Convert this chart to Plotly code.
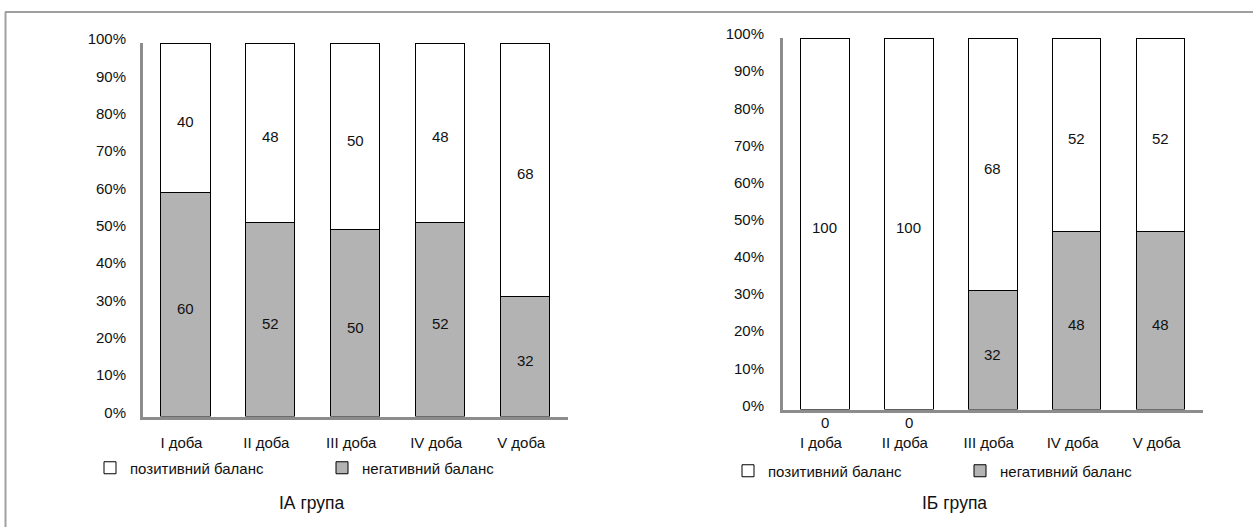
import plotly.graph_objects as go

# Daily balance shares, %, for the two patient groups
days = ["I доба", "II доба", "III доба", "IV доба", "V доба"]
ia_positive = [40, 48, 50, 48, 68]
ia_negative = [60, 52, 50, 52, 32]
ib_positive = [100, 100, 68, 52, 52]
ib_negative = [0, 0, 32, 48, 48]

pos_name = "позитивний баланс"
neg_name = "негативний баланс"
group_titles = ["ІА група", "ІБ група"]
y_ticks = list(range(0, 101, 10))
y_tick_text = [f"{v}%" for v in y_ticks]

W, H = 1253, 527
FONT = "Liberation Sans, Arial, sans-serif"
FS = 15
TXT = "#111111"
GREY_FILL = "#b3b3b3"
AXIS_GREY = "#8c8c8c"


def px_x(p):
    return p / W


def px_y(p):
    return 1 - p / H


fig = go.Figure()

panels = [
    dict(xa="x", ya="y", pos=ia_positive, neg=ia_negative, legend="legend"),
    dict(xa="x2", ya="y2", pos=ib_positive, neg=ib_negative, legend="legend2"),
]

for p in panels:
    fig.add_trace(go.Bar(
        x=days, y=p["neg"], name=neg_name, xaxis=p["xa"], yaxis=p["ya"],
        marker=dict(color=GREY_FILL, line=dict(color="black", width=1)),
        legend=p["legend"], legendrank=2, hoverinfo="skip",
    ))
    fig.add_trace(go.Bar(
        x=days, y=p["pos"], name=pos_name, xaxis=p["xa"], yaxis=p["ya"],
        marker=dict(color="white", line=dict(color="black", width=1)),
        legend=p["legend"], legendrank=1, hoverinfo="skip",
    ))

# value labels in the middle of each segment; zero segments labelled under the axis
annotations = []
for p in panels:
    for d, neg, pos in zip(days, p["neg"], p["pos"]):
        for base, v in ((0, neg), (neg, pos)):
            if v > 0:
                annotations.append(dict(
                    x=d, y=base + v / 2, xref=p["xa"], yref=p["ya"],
                    text=str(v), showarrow=False, yshift=-4,
                    font=dict(family=FONT, size=FS, color=TXT),
                ))
            else:
                annotations.append(dict(
                    x=d, y=base, xref=p["xa"], yref=p["ya"],
                    text=str(v), showarrow=False, yanchor="top", yshift=-2,
                    font=dict(family=FONT, size=FS, color=TXT),
                ))

for title, cx in zip(group_titles, (312, 954)):
    annotations.append(dict(x=px_x(cx), y=px_y(503), xref="paper", yref="paper",
                            xanchor="center", yanchor="middle",
                            text=title, showarrow=False,
                            font=dict(family=FONT, size=17.5, color=TXT)))

common_x = dict(showline=True, linecolor=AXIS_GREY, linewidth=3, showgrid=False,
                ticks="", tickfont=dict(family=FONT, size=FS, color=TXT),
                fixedrange=True, ticklabelshift=-4)
common_y = dict(showline=True, linecolor=AXIS_GREY, linewidth=3, showgrid=False,
                zeroline=False, ticks="", range=[0, 100], tickmode="array",
                tickvals=y_ticks, ticktext=y_tick_text,
                tickfont=dict(family=FONT, size=FS, color=TXT),
                fixedrange=True, ticklabelshift=-4)

legend_common = dict(orientation="h", xanchor="left", yanchor="middle",
                     traceorder="normal", entrywidth=187,
                     bgcolor="rgba(0,0,0,0)",
                     font=dict(family=FONT, size=FS, color=TXT))

fig.update_layout(
    width=W, height=H,
    margin=dict(l=0, r=0, t=0, b=0, autoexpand=False),
    paper_bgcolor="white", plot_bgcolor="white",
    barmode="stack", bargap=0.42,
    xaxis=dict(domain=[px_x(143), px_x(567.5)], anchor="y",
               ticklabelstandoff=10, **common_x),
    yaxis=dict(domain=[px_y(416.5), px_y(43)], anchor="x",
               ticklabelstandoff=11, **common_y),
    xaxis2=dict(domain=[px_x(783), px_x(1202.5)], anchor="y2",
                ticklabelstandoff=17, **common_x),
    yaxis2=dict(domain=[px_y(409.5), px_y(38)], anchor="x2",
                ticklabelstandoff=13, **common_y),
    legend=dict(x=px_x(90), y=px_y(468), **legend_common),
    legend2=dict(x=px_x(728), y=px_y(471), **legend_common),
    annotations=annotations,
    shapes=[
        dict(type="line", xref="paper", yref="paper", x0=px_x(5), x1=1,
             y0=px_y(12), y1=px_y(12), line=dict(color="#a0a0a0", width=2)),
        dict(type="line", xref="paper", yref="paper", x0=px_x(5.5), x1=px_x(5.5),
             y0=px_y(12), y1=0, line=dict(color="#a0a0a0", width=2)),
    ],
)

fig.write_html("out.html")
